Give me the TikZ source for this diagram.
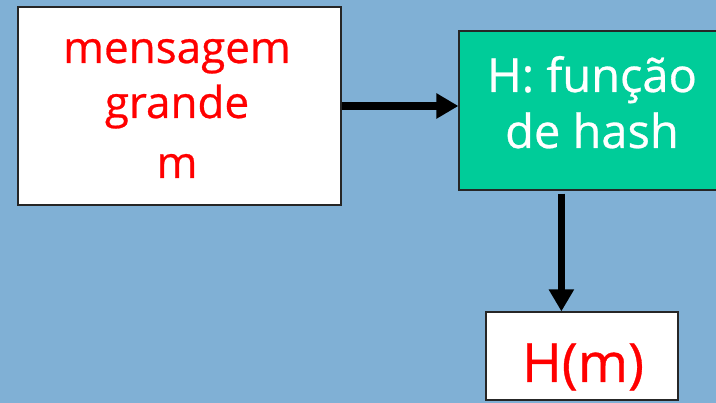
\documentclass[tikz,border=0pt]{standalone}
\usepackage{fontspec}
\setmainfont{Open Sans}[FakeBold=0.6]
\usetikzlibrary{arrows.meta,calc}
\definecolor{bg}{RGB}{128,176,213}
\definecolor{hashgreen}{RGB}{0,204,153}
\definecolor{msgred}{RGB}{255,0,0}
\begin{document}
\begin{tikzpicture}[x=1pt,y=1pt,
  box/.style={draw=black!85,line width=1.2pt,inner sep=0pt},
  flow/.style={line width=7.5pt,-{Triangle[length=22pt,width=24pt]}},
  txt/.style={anchor=base,inner sep=0pt}]
\fill[bg] (0,0) rectangle (716,403);
\useasboundingbox (0,0) rectangle (716,403);
\node[box,fill=white,minimum width=323,minimum height=198] (msg) at (179.5,297) {};
\node[box,fill=hashgreen,minimum width=267,minimum height=159] (hash) at (592.5,292.5) {};
\node[box,fill=white,minimum width=192,minimum height=88] (hm) at (582,47) {};
\node[txt,text=msgred,font=\fontsize{44}{50}\selectfont] (t1) at (177,340) {mensagem};
\node[txt,text=msgred,font=\fontsize{44}{50}\selectfont] (t2) at (177,285) {grande};
\node[txt,text=msgred,font=\fontsize{44}{50}\selectfont] (t3) at (177,225) {m};
\node[txt,text=white,font=\fontsize{47}{50}\selectfont] (t4) at (592,311) {H: função};
\node[txt,text=white,font=\fontsize{47}{50}\selectfont] (t5) at (592,255) {de hash};
\node[txt,text=msgred,font=\fontsize{54}{60}\selectfont] (t6) at (583,21) {H(m)};
\draw[flow] (msg.east) -- (msg.east -| hash.west);
\coordinate (hs) at ($(hash.south west)+(103,-3)$);
\draw[flow] (hs) -- (hs |- hm.north);
\end{tikzpicture}
\end{document}
